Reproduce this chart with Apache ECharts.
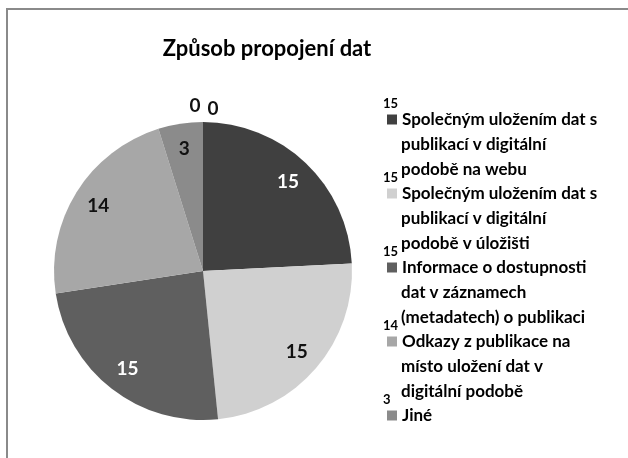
<!DOCTYPE html>
<html>
<head>
<meta charset="utf-8">
<script src="https://cdn.jsdelivr.net/npm/echarts@6/dist/echarts.min.js"></script>
<style>
html, body { margin: 0; padding: 0; background: #fff; }
#wrap { position: relative; width: 628px; height: 458px; overflow: hidden; }
#chart { position: absolute; left: 0; top: 0; width: 628px; height: 458px; }
#frame { position: absolute; left: 6px; top: 8px; width: 700px; height: 600px;
  border-left: 2px solid #8a8a8a; border-top: 2px solid #8a8a8a; pointer-events: none; }
</style>
</head>
<body>
<div id="wrap"><div id="chart"></div><div id="frame"></div></div>
<script>
// ---- data ----
const titleText = 'Způsob propojení dat';
const categories = [
  'Společným uložením dat s publikací v digitální podobě na webu',
  'Společným uložením dat s publikací v digitální podobě v úložišti',
  'Informace o dostupnosti dat v záznamech (metadatech) o publikaci',
  'Odkazy z publikace na místo uložení dat v digitální podobě',
  'Jiné',
  'Neuvedeno 1',
  'Neuvedeno 2'
];
const legendLines = [
  ['Společným uložením dat s', 'publikací v digitální', 'podobě na webu'],
  ['Společným uložením dat s', 'publikací v digitální', 'podobě v úložišti'],
  ['Informace o dostupnosti', 'dat v záznamech', '(metadatech) o publikaci'],
  ['Odkazy z publikace na', 'místo uložení dat v', 'digitální podobě'],
  ['Jiné']
];
const values = [15, 15, 15, 14, 3, 0, 0];
const legendCount = 5;

// ---- styles ----
const colors = ['#404040', '#d0d0d0', '#5f5f5f', '#a7a7a7', '#8b8b8b', '#7a7a7a', '#b0b0b0'];
const labelColors = ['#ffffff', '#111111', '#ffffff', '#111111', '#111111', '#111111', '#111111'];
const zeroLabelOffsets = [[-8, 3], [10, 6]];
const FONT = 'Lato, "Open Sans", sans-serif';
const CENTER = [203, 271];
const R = 149;

const rich = {
  n: { fontSize: 13, fontWeight: 'bold', lineHeight: 7, color: '#000', fontFamily: FONT, verticalAlign: 'middle' },
  s: { width: 4, height: 9, lineHeight: 25, verticalAlign: 'middle' },
  g: { width: 5, height: 9, lineHeight: 25, verticalAlign: 'middle' },
  t: { fontSize: 17, fontWeight: 'bold', lineHeight: 25, color: '#000', fontFamily: FONT, verticalAlign: 'middle' },
  i: { fontSize: 17, fontWeight: 'bold', lineHeight: 25, color: '#000', fontFamily: FONT, verticalAlign: 'middle', padding: [0, 0, 0, 18] }
};
for (let k = 0; k < legendCount; k++) {
  rich['b' + k] = { width: 10, height: 10, lineHeight: 25, backgroundColor: colors[k], verticalAlign: 'middle' };
}

const chart = echarts.init(document.getElementById('chart'), null, { renderer: 'canvas' });
chart.setOption({
  animation: false,
  backgroundColor: '#ffffff',
  title: {
    text: titleText,
    left: 262,
    textAlign: 'center',
    top: 33,
    textStyle: { fontFamily: FONT, fontSize: 22, fontWeight: 'bold', color: '#000' }
  },
  legend: {
    orient: 'vertical',
    left: 378,
    top: 97,
    padding: 0,
    itemGap: -7,
    itemWidth: 0,
    itemHeight: 0,
    selectedMode: false,
    data: categories.slice(0, legendCount),
    formatter: function (name) {
      const k = categories.indexOf(name);
      const lines = legendLines[k];
      let s = '{n|' + values[k] + '}\n{s|}{b' + k + '|}{g|}{t|' + lines[0] + '}';
      for (let j = 1; j < lines.length; j++) s += '\n{i|' + lines[j] + '}';
      return s;
    },
    textStyle: { rich: rich, fontFamily: FONT }
  },
  series: [
    {
      type: 'pie',
      center: CENTER,
      radius: [0, R],
      startAngle: 90,
      clockwise: true,
      silent: true,
      label: { show: false },
      labelLine: { show: false },
      data: values.map((v, k) => ({ value: v, name: categories[k], itemStyle: { color: colors[k] } }))
    },
    {
      type: 'pie',
      center: CENTER,
      radius: [92, R],
      startAngle: 90,
      clockwise: true,
      silent: true,
      avoidLabelOverlap: false,
      itemStyle: { color: 'rgba(0,0,0,0)' },
      labelLine: { show: false },
      data: values.map((v, k) => ({
        value: v, name: categories[k],
        label: {
          show: v > 0, position: 'inside', formatter: '{c}',
          color: labelColors[k], fontSize: 19, fontWeight: 'bold', fontFamily: FONT
        }
      }))
    },
    {
      type: 'pie',
      center: CENTER,
      radius: [R, 181],
      startAngle: 90,
      clockwise: true,
      silent: true,
      avoidLabelOverlap: false,
      itemStyle: { color: 'rgba(0,0,0,0)' },
      labelLine: { show: false },
      data: values.map((v, k) => {
        const zi = values.slice(0, k).filter(x => x === 0).length;
        return {
          value: v, name: categories[k],
          label: {
            show: v === 0, position: 'inside', formatter: '{c}',
            offset: v === 0 ? zeroLabelOffsets[zi % zeroLabelOffsets.length] : [0, 0],
            color: '#111', fontSize: 19, fontWeight: 'bold', fontFamily: FONT
          }
        };
      })
    }
  ]
});
</script>
</body>
</html>
